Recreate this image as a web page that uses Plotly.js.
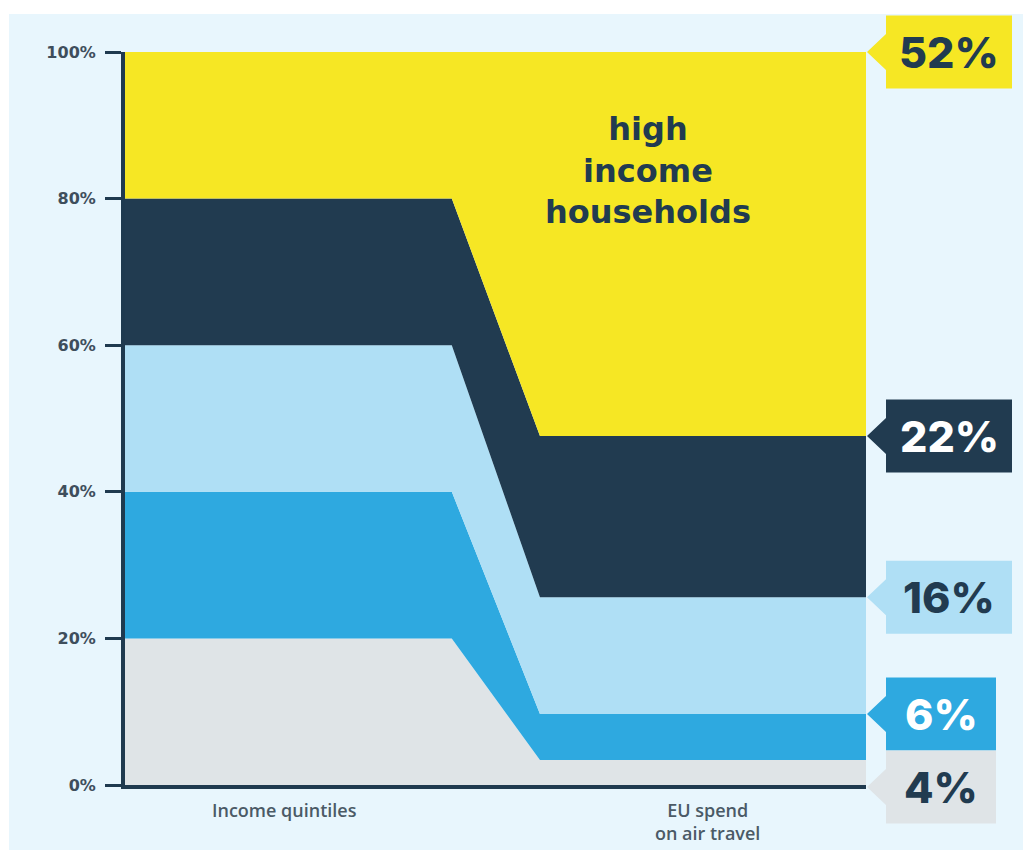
<!DOCTYPE html>
<html>
<head>
<meta charset="utf-8">
<script src="https://cdn.plot.ly/plotly-3.0.1.min.js"></script>
<style>
  html, body { margin: 0; padding: 0; background: #ffffff; }
  #chart { width: 1023px; height: 850px; }
</style>
</head>
<body>
<div id="chart"></div>
<script>
// ---- data ----
const groups = ['Lowest quintile', 'Second quintile', 'Third quintile', 'Fourth quintile', 'Highest quintile'];
const incomeShare = [20, 20, 20, 20, 20];           // % of income quintiles
const airSpendShare = [3.4, 6.3, 15.9, 22.0, 52.4];  // % of EU spend on air travel (as drawn)
const spendLabels = ['4%', '6%', '16%', '22%', '52%'];
const colors = ['#DFE4E7', '#2EA9E0', '#AFDFF5', '#213B50', '#F6E724'];
const labelTextColors = ['#213B50', '#ffffff', '#213B50', '#ffffff', '#213B50'];
const xCategories = ['Income quintiles', 'EU spend<br>on air travel'];
const yTicks = [0, 20, 40, 60, 80, 100];
const highlightText = 'high<br>income<br>households';

// ---- layout geometry (pixels) ----
const W = 1023, H = 850;
const L = 125, R = 866, T = 52, B = 785;
const pw = R - L, ph = B - T;
const px2x = p => (p - L) / pw;
const py2y = p => (B - p) / ph;
const navy = '#1F3A4F';

// x positions of the flat segments (axis units 0..1)
const xs = [0, 0.441, 0.56, 1];

const traces = groups.map((g, i) => ({
  type: 'scatter',
  mode: 'none',
  name: g,
  x: xs,
  y: [incomeShare[i], incomeShare[i], airSpendShare[i], airSpendShare[i]],
  stackgroup: 'one',
  fillcolor: colors[i],
  line: { width: 0, shape: 'linear' },
  hoverinfo: 'skip'
}));

// ---- right side arrow labels ----
const shapes = [];
const annotations = [];

// background panel
shapes.push({
  type: 'rect', xref: 'paper', yref: 'paper', layer: 'below',
  x0: px2x(9), x1: px2x(W + 5), y0: py2y(H + 5), y1: py2y(14),
  fillcolor: '#E8F6FD', line: { width: 0 }
});

const halfH = 36.5 / ph;
const notch = 18 / ph;
let cum = [];
let s = 0;
airSpendShare.forEach(v => { s += v; cum.push(s / 100); });
let prevCenter = null;
for (let i = groups.length - 1; i >= 0; i--) {
  let c = cum[i];
  if (prevCenter !== null && c + halfH > prevCenter - halfH) c = prevCenter - 2 * halfH;
  prevCenter = c;
  const boxW = 78 + 16 * spendLabels[i].length;
  const xt = px2x(R + 1), xb = px2x(886), xr = px2x(886 + boxW);
  const path = `M${xt},${c} L${xb},${c + notch} L${xb},${c + halfH} L${xr},${c + halfH} L${xr},${c - halfH} L${xb},${c - halfH} L${xb},${c - notch} Z`;
  shapes.push({ type: 'path', xref: 'paper', yref: 'paper', path: path, fillcolor: colors[i], line: { width: 0 }, layer: 'above' });
  annotations.push({
    xref: 'paper', yref: 'paper', x: (xb + xr) / 2, y: c, text: spendLabels[i],
    showarrow: false, xanchor: 'center', yanchor: 'middle',
    font: { family: 'Inter, Noto Sans, sans-serif', size: 43, weight: 800, color: labelTextColors[i] }
  });
}

// highlight label
annotations.push({
  xref: 'paper', yref: 'paper', x: px2x(648), y: py2y(170), text: highlightText,
  showarrow: false, xanchor: 'center', yanchor: 'middle',
  font: { family: 'DejaVu Sans, sans-serif', size: 32, weight: 700, color: '#213B50' }
});

// x category labels
const xLabelPos = [px2x(284), px2x(707)];
xCategories.forEach((t, i) => {
  annotations.push({
    xref: 'paper', yref: 'paper', x: xLabelPos[i], y: py2y(797), text: t,
    showarrow: false, xanchor: 'center', yanchor: 'top', borderpad: 0,
    font: { family: 'Open Sans, sans-serif', size: 18, weight: 600, color: '#4B5A66' }
  });
});

const layout = {
  width: W, height: H,
  margin: { l: L, r: W - R, t: T, b: H - B, pad: 0 },
  paper_bgcolor: '#ffffff',
  plot_bgcolor: 'rgba(0,0,0,0)',
  showlegend: false,
  hovermode: false,
  xaxis: {
    range: [0, 1], showgrid: false, zeroline: false, showticklabels: false, ticks: '',
    showline: true, linecolor: navy, linewidth: 4, fixedrange: true
  },
  yaxis: {
    range: [0, 100], showgrid: false, zeroline: false,
    tickvals: yTicks, ticktext: yTicks.map(v => v + '%'),
    ticks: 'outside', ticklen: 16, tickwidth: 3, tickcolor: navy,
    ticklabelstandoff: 6,
    showline: true, linecolor: navy, linewidth: 4,
    tickfont: { family: 'DejaVu Sans, sans-serif', size: 16, weight: 700, color: '#3E4E5C' },
    fixedrange: true
  },
  shapes: shapes,
  annotations: annotations
};

Plotly.newPlot('chart', traces, layout, { staticPlot: true, displayModeBar: false });
</script>
</body>
</html>
